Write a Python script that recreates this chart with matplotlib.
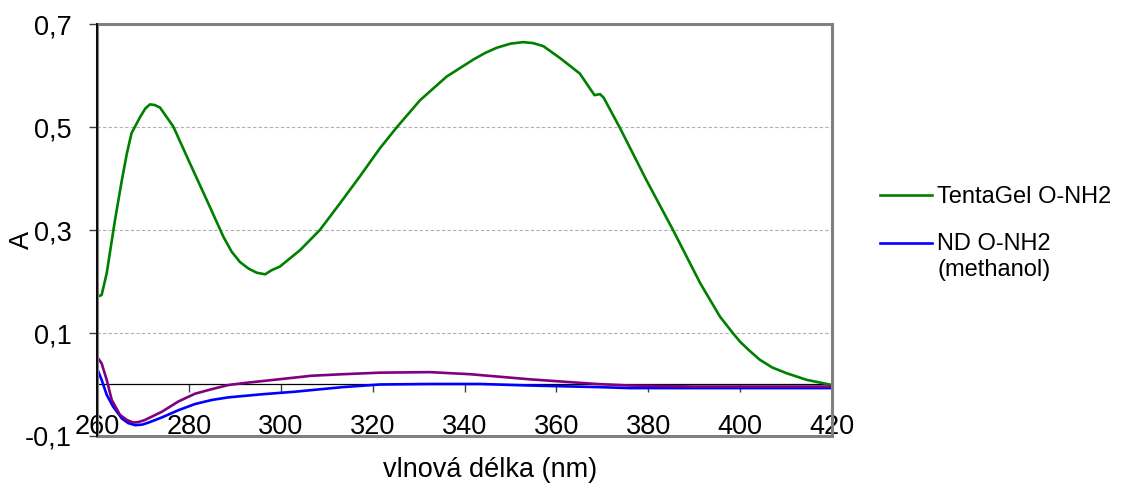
import matplotlib
matplotlib.use("Agg")
import matplotlib.pyplot as plt
from matplotlib.patches import Rectangle
from matplotlib.legend_handler import HandlerLine2D
from matplotlib.ticker import FuncFormatter

plt.rcParams['font.family'] = ['Liberation Sans', 'DejaVu Sans']

# spectra (wavelength in nm, absorbance)
green_nm = [260, 261, 262.1, 263.9, 265.4, 266.5, 267.5, 269.4, 270.5, 271.5, 272.5, 273.7,
            276.6, 280.2, 283.9, 287.5, 289.3, 291.1, 293.0, 294.8, 296.6, 298.0, 299.8, 302.0,
            304.2, 308.5, 312.9, 317.2, 321.6, 325.2, 330.3, 336.1, 341.9, 344.5, 347.0,
            350.0, 352.8, 355.0, 357.2, 360.8, 365.1, 368.3, 369.5, 370.3, 373.8, 379.6,
            385.4, 391.3, 395.6, 398.5, 400.0, 402.0, 404.3, 407.0, 410.1, 414.5, 420]
green_a = [0.170, 0.174, 0.216, 0.319, 0.397, 0.449, 0.488, 0.520, 0.536, 0.544, 0.543, 0.538,
           0.501, 0.430, 0.358, 0.287, 0.258, 0.238, 0.225, 0.217, 0.214, 0.222, 0.229, 0.245,
           0.261, 0.300, 0.352, 0.404, 0.459, 0.499, 0.552, 0.598, 0.631, 0.644, 0.654,
           0.662, 0.665, 0.663, 0.657, 0.634, 0.604, 0.562, 0.564, 0.557, 0.499, 0.397,
           0.300, 0.197, 0.132, 0.099, 0.083, 0.066, 0.048, 0.033, 0.022, 0.009, -0.001]

blue_nm = [260, 261, 262.1, 263.5, 265.4, 266.8, 268.3, 269.8, 271.2, 274.1, 277.7, 281.3,
           285.0, 288.6, 295.9, 303.1, 313.6, 321.6, 332.5, 343.4, 354.3, 368.8, 376, 420]
blue_a = [0.031, 0.009, -0.020, -0.043, -0.066, -0.075, -0.079, -0.078, -0.074, -0.064, -0.050, -0.038,
          -0.030, -0.025, -0.019, -0.014, -0.005, 0.000, 0.001, 0.001, -0.002, -0.005, -0.007, -0.007]

purple_nm = [260, 261, 262.1, 263.2, 265.0, 266.5, 267.9, 269.0, 270.4, 274.1, 277.7, 281.3,
             285.0, 288.6, 292.2, 299.5, 306.7, 313.6, 321.6, 332.5, 341.2, 354.3, 368.8,
             376, 390, 420]
purple_a = [0.054, 0.041, 0.009, -0.030, -0.059, -0.069, -0.074, -0.073, -0.069, -0.053, -0.033, -0.018,
            -0.009, -0.001, 0.003, 0.010, 0.017, 0.020, 0.023, 0.024, 0.020, 0.010, 0.001,
            -0.002, -0.004, -0.004]

x_ticks = [260, 280, 300, 320, 340, 360, 380, 400, 420]
y_ticks = [-0.1, 0.1, 0.3, 0.5, 0.7]


class UpperLineHandler(HandlerLine2D):
    # put the legend line next to the first text line, not the middle of the block
    def __init__(self, shift, **kw):
        super().__init__(**kw)
        self.shift = shift

    def create_artists(self, legend, orig_handle, xdescent, ydescent, width, height, fontsize, trans):
        arts = super().create_artists(legend, orig_handle, xdescent, ydescent, width, height, fontsize, trans)
        for a in arts:
            a.set_ydata([y + self.shift * fontsize for y in a.get_ydata()])
        return arts


fig = plt.figure(figsize=(11.22, 4.88), dpi=100)
ax = fig.add_axes([0.0865, 0.1066, 0.655, 0.844])

ax.plot(green_nm, green_a, color='#008000', lw=1.9, zorder=3, label='TentaGel O-NH2')
lb, = ax.plot(blue_nm, blue_a, color='#0000ff', lw=1.9, zorder=3, label='ND O-NH2\n(methanol)')
ax.plot(purple_nm, purple_a, color='#800080', lw=1.9, zorder=3)

ax.set_xlim(260, 420)
ax.set_ylim(-0.1, 0.7)
ax.set_xticks(x_ticks)
ax.set_yticks(y_ticks)
ax.xaxis.set_major_formatter(FuncFormatter(lambda v, p: f"{v:.0f}"))
ax.yaxis.set_major_formatter(FuncFormatter(lambda v, p: f"{v:.1f}".replace('.', ',')))

ax.grid(axis='y', color='#b0b0b0', linestyle=(0, (3, 2)), lw=0.8)
ax.set_axisbelow(True)

for s in ['top', 'right']:
    ax.spines[s].set_visible(False)
ax.spines['bottom'].set_position(('data', 0))
ax.spines['bottom'].set_color('black')
ax.spines['bottom'].set_linewidth(0.9)
ax.spines['left'].set_color('black')
ax.spines['left'].set_linewidth(1.3)
ax.spines['left'].set_zorder(4)
ax.add_patch(Rectangle((0, 0), 1, 1, transform=ax.transAxes, fill=False,
                       ec='#808080', lw=2.2, clip_on=False, zorder=3.5))

ax.tick_params(axis='x', direction='out', length=6, width=1, color='#404040',
               labelsize=19.5, pad=15.5)
ax.tick_params(axis='y', direction='out', length=6, width=1, color='#404040',
               labelsize=19.5, pad=12)

ax.set_xlabel('vlnová délka (nm)', fontsize=19.5)
ax.xaxis.set_label_coords(0.535, -0.05)
ax.set_ylabel('A', fontsize=19.5)
ax.yaxis.set_label_coords(-0.085, 0.475)

leg = fig.legend(handles=[ax.lines[0], lb], loc='upper left',
                 bbox_to_anchor=(0.784, 0.618), frameon=False, fontsize=17,
                 borderpad=0, borderaxespad=0, handlelength=2.2, handletextpad=0.25,
                 labelspacing=1.05, handler_map={lb: UpperLineHandler(0.62)})
leg.get_texts()[1].set_linespacing(1.2)
for ln in leg.get_lines():
    ln.set_linewidth(1.9)

fig.savefig('out.png', dpi=100)
